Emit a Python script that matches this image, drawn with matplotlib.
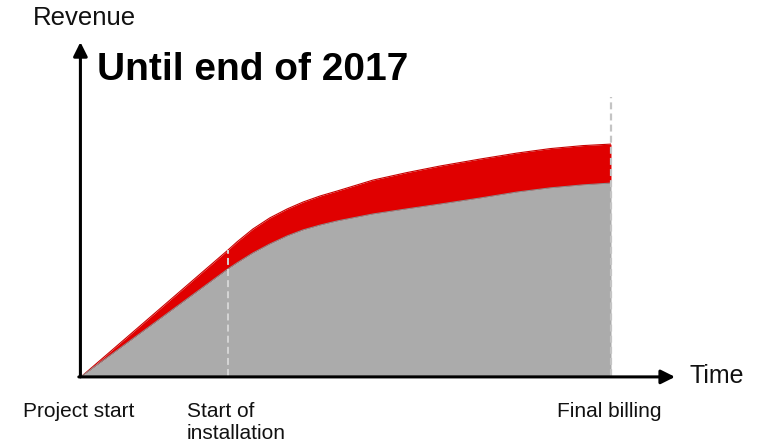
import matplotlib
matplotlib.use("Agg")
import matplotlib.pyplot as plt

plt.rcParams['font.family'] = ['Liberation Sans', 'DejaVu Sans']
plt.rcParams['lines.scale_dashes'] = False

# ---- data (time in % of project duration, revenue in arbitrary units) ----
time = [0, 27.6, 29.3, 32.3, 35.5, 38.8, 41.8, 45.0, 48.3, 55.0, 61.4, 67.7, 75.2, 82.2, 88.5, 94.7, 100]
revenue_upper = [0, 42.0, 44.7, 49.0, 52.7, 55.7, 58.0, 60.0, 61.7, 65.3, 67.8, 70.0, 72.3, 74.3, 75.8, 76.8, 77.3]
revenue_lower = [0, 35.7, 37.7, 41.0, 44.0, 46.7, 48.7, 50.3, 51.7, 54.0, 55.7, 57.3, 59.3, 61.3, 62.7, 63.7, 64.3]
install_start = 27.6
final_billing = 100
label_project_start = "Project start"
label_install = ["Start of", "installation"]
label_final = "Final billing"
title_text = "Until end of 2017"
y_label = "Revenue"
x_label = "Time"

W, H = 763, 444
fig = plt.figure(figsize=(W / 100, H / 100), dpi=100)
ax = fig.add_axes([82 / W, (H - 376) / H, (611 - 82) / W, (376 - 76) / H])
ax.set_xlim(0, 100)
ax.set_ylim(0, 100)
ax.axis('off')

red = '#e00000'
grey = '#ababab'

ax.fill_between(time, revenue_lower, revenue_upper, color=red, lw=0, zorder=2)
ax.fill_between(time, 0, revenue_lower, color=grey, lw=0, zorder=2)
ax.plot(time, revenue_upper, color='#c80000', lw=0.8, zorder=3)
ax.plot(time, revenue_lower, color='#8c8c8c', lw=0.8, zorder=3)

# milestone dashed lines
ax.plot([final_billing, final_billing], [0, 93], color='#c4c4c4', lw=1.6,
        dashes=(5, 3), zorder=4, clip_on=False)
ax.plot([install_start, install_start], [0, revenue_upper[1]], color='#d6d6d6', lw=1.4,
        dashes=(5, 3), zorder=4)

# axes arrows
ax.annotate('', xy=(-0.3, 111.3), xytext=(-0.3, -0.3), xycoords='data',
            arrowprops=dict(arrowstyle='-|>,head_length=0.6,head_width=0.3',
                            mutation_scale=14, lw=2.2, color='black',
                            shrinkA=0, shrinkB=0), annotation_clip=False, zorder=5)
ax.annotate('', xy=(112.1, -0.3), xytext=(-0.6, -0.3), xycoords='data',
            arrowprops=dict(arrowstyle='-|>,head_length=0.6,head_width=0.3',
                            mutation_scale=14, lw=2.2, color='black',
                            shrinkA=0, shrinkB=0), annotation_clip=False, zorder=5)

def fx(px):
    return px / W

def fy(py):
    return 1 - py / H

fs_small = 15
txt = '#111111'
fig.text(fx(33), fy(25), y_label, fontsize=18.5, ha='left', va='baseline', color=txt)
fig.text(fx(690), fy(383), x_label, fontsize=18, ha='left', va='baseline', color=txt)
fig.text(fx(97), fy(80), title_text, fontsize=28, fontweight='bold', ha='left', va='baseline')
fig.text(fx(23), fy(417), label_project_start, fontsize=fs_small, ha='left', va='baseline', color=txt)
fig.text(fx(187), fy(417), label_install[0], fontsize=fs_small, ha='left', va='baseline', color=txt)
fig.text(fx(187), fy(439), label_install[1], fontsize=fs_small, ha='left', va='baseline', color=txt)
fig.text(fx(557), fy(417), label_final, fontsize=fs_small, ha='left', va='baseline', color=txt)

fig.savefig('out.png', dpi=100)
